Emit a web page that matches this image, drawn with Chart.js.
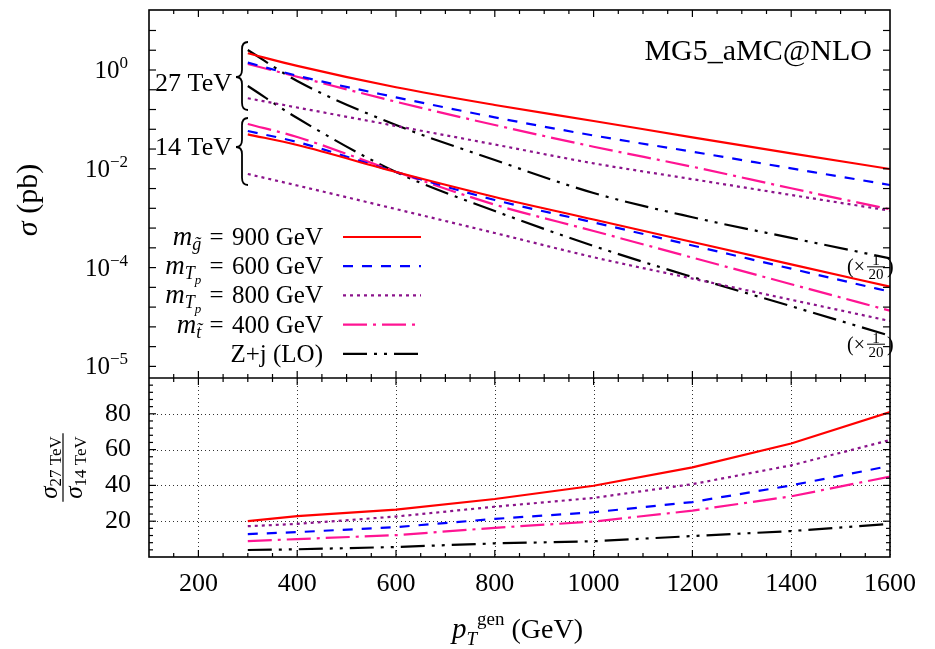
<!DOCTYPE html>
<html>
<head>
<meta charset="utf-8">
<title>sigma vs pT gen</title>
<script src="https://cdn.jsdelivr.net/npm/chart.js@4.4.1/dist/chart.umd.min.js"></script>
<style>
  html, body { margin: 0; padding: 0; background: #fff; }
  #wrap { width: 935px; height: 649px; }
</style>
</head>
<body>
<div id="wrap"><canvas id="xsecChart" width="935" height="649"></canvas></div>
<script>
// generator-level pT (GeV)
const ptGen = [300, 400, 600, 800, 1000, 1200, 1400, 1600];
const xTicks = [200, 400, 600, 800, 1000, 1200, 1400, 1600];

// sigma (pb) at 27 TeV
const gluino27 = [2.18, 1.21, 0.447, 0.196, 0.0929, 0.0434, 0.0206, 0.0099];
const tp600_27 = [1.41, 0.767, 0.280, 0.110, 0.0472, 0.0222, 0.0102, 0.0047];
const tp800_27 = [0.268, 0.174, 0.0735, 0.0310, 0.0129, 0.00616, 0.00295, 0.00142];
const stop27   = [1.32, 0.732, 0.228, 0.0770, 0.0280, 0.0110, 0.00403, 0.00151];
const zj27     = [50.8, 12.0, 1.54, 0.301, 0.0647, 0.0209, 0.00798, 0.00308];

// sigma (pb) at 14 TeV
const gluino14 = [0.0499, 0.0303, 0.00861, 0.00269, 0.000941, 0.000330, 0.000116, 0.000041];
const tp600_14 = [0.0582, 0.0349, 0.00861, 0.00234, 0.000822, 0.000280, 0.0000950, 0.0000325];
const tp800_14 = [0.00785, 0.00459, 0.00153, 0.000501, 0.000162, 0.0000599, 0.0000223, 0.0000083];
const stop14   = [0.0807, 0.0440, 0.00874, 0.00188, 0.000551, 0.000159, 0.0000461, 0.0000134];
const zj14     = [9.48, 2.13, 0.172, 0.0280, 0.00548, 0.00129, 0.000330, 0.0000836];

// Z+j is drawn scaled down
const zjScale = 1 / 20;

// sigma(27 TeV) / sigma(14 TeV)
const ratioGluino = [20.0, 22.8, 26.5, 32.4, 39.8, 50.1, 63.4, 81.0];
const ratioTp600  = [12.8, 13.9, 16.7, 21.3, 25.0, 30.7, 40.0, 50.9];
const ratioTp800  = [17.2, 18.5, 22.6, 28.1, 33.0, 40.7, 51.2, 65.3];
const ratioStop   = [8.9, 10.0, 12.2, 16.3, 19.8, 25.9, 33.9, 44.9];
const ratioZj     = [3.9, 4.3, 5.6, 7.6, 8.8, 11.7, 14.5, 18.5];

// log-axis tick labels
const logTickValues = [1, 1e-2, 1e-4, 1e-6];
const logTickExps = ['0', '\u22122', '\u22124', '\u22125'];

const ratioTicks = [20, 40, 60, 80];

const FAMILY = '"Liberation Serif", "DejaVu Serif", serif';
const fontOf = (size, italic) => `${italic ? 'italic ' : ''}${size}px ${FAMILY}`;

const EQ = '\u2004=\u2004';
const series = [
    { v27: gluino27, v14: gluino14, ratio: ratioGluino, color: '#ff0000', dash: [], width: 2.2,
      label: [['m', 27, true], ['g\u0303', 18, true, 5], [EQ + '900 GeV', 25]] },
    { v27: tp600_27, v14: tp600_14, ratio: ratioTp600, color: '#0000ff', dash: [10, 9], width: 2.2,
      label: [['m', 27, true], ['T', 18, true, 5], ['p', 13, true, 10], [EQ + '600 GeV', 25]] },
    { v27: tp800_27, v14: tp800_14, ratio: ratioTp800, color: '#8b138b', dash: [3, 4], width: 2.2,
      label: [['m', 27, true], ['T', 18, true, 5], ['p', 13, true, 10], [EQ + '800 GeV', 25]] },
    { v27: stop27, v14: stop14, ratio: ratioStop, color: '#ff1493', dash: [24, 6, 3, 6], width: 2.2,
      label: [['m', 27, true], ['t\u0303', 18, true, 5], [EQ + '400 GeV', 25]] },
    { v27: zj27.map(v => v * zjScale), v14: zj14.map(v => v * zjScale), ratio: ratioZj,
      color: '#000000', dash: [24, 7, 3, 7, 3, 7], width: 2.2,
      label: [['Z+j (LO)', 25]] }
];

const toXY = vals => vals.map((y, i) => ({ x: ptGen[i], y }));

const datasets = [];
series.forEach((s, i) => {
    const style = {
        borderColor: s.color, borderWidth: s.width, borderDash: s.dash,
        pointRadius: 0, fill: false, series: i
    };
    datasets.push({ ...style, data: toXY(s.v27), yAxisID: 'yTop', cubicInterpolationMode: 'monotone' });
    datasets.push({ ...style, data: toXY(s.v14), yAxisID: 'yTop', cubicInterpolationMode: 'monotone' });
    datasets.push({ ...style, data: toXY(s.ratio), yAxisID: 'yBot', tension: 0 });
});

// text made of pieces: [text, size, italic, dy]
function drawRuns(ctx, runs, x, y, align) {
    const widths = runs.map(r => { ctx.font = fontOf(r[1], r[2]); return ctx.measureText(r[0]).width; });
    const total = widths.reduce((a, b) => a + b, 0);
    let cx = align === 'right' ? x - total : align === 'center' ? x - total / 2 : x;
    runs.forEach((r, i) => {
        ctx.font = fontOf(r[1], r[2]);
        ctx.fillText(r[0], cx, y + (r[3] || 0));
        cx += widths[i];
    });
    return total;
}

function drawBrace(ctx, xTip, yTop, yMid, yBot, w) {
    const xs = xTip + w * 0.5;
    const xe = xTip + w;
    ctx.beginPath();
    ctx.moveTo(xe, yTop);
    ctx.quadraticCurveTo(xs, yTop, xs, yTop + w * 0.6);
    ctx.lineTo(xs, yMid - w * 0.6);
    ctx.quadraticCurveTo(xs, yMid, xTip, yMid);
    ctx.quadraticCurveTo(xs, yMid, xs, yMid + w * 0.6);
    ctx.lineTo(xs, yBot - w * 0.6);
    ctx.quadraticCurveTo(xs, yBot, xe, yBot);
    ctx.stroke();
}

function drawScaleNote(ctx, xRight, y) {
    // "(x 1/20)" with a stacked fraction
    ctx.fillStyle = '#000';
    ctx.textAlign = 'left';
    ctx.font = fontOf(20);
    const open = '(\u00d7';
    const wOpen = ctx.measureText(open).width;
    const x0 = xRight - wOpen - 22 - 7;
    ctx.fillText(open, x0, y + 7);
    const fx = x0 + wOpen + 11;
    ctx.font = fontOf(15);
    ctx.textAlign = 'center';
    ctx.fillText('1', fx, y - 1);
    ctx.fillText('20', fx, y + 13);
    ctx.beginPath();
    ctx.lineWidth = 1;
    ctx.moveTo(fx - 9, y + 0.5);
    ctx.lineTo(fx + 9, y + 0.5);
    ctx.stroke();
    ctx.textAlign = 'left';
    ctx.font = fontOf(20);
    ctx.fillText(')', fx + 11, y + 7);
}

const panelPlugin = {
    id: 'panelDecor',
    beforeDatasetsDraw(chart) {
        const { ctx, chartArea: ca } = chart;
        const xs = chart.scales.x, yb = chart.scales.yBot;
        ctx.save();
        ctx.strokeStyle = '#333';
        ctx.lineWidth = 1;
        ctx.setLineDash([1, 3]);
        xTicks.forEach(v => {
            const px = Math.round(xs.getPixelForValue(v)) + 0.5;
            ctx.beginPath(); ctx.moveTo(px, yb.top); ctx.lineTo(px, yb.bottom); ctx.stroke();
        });
        ratioTicks.forEach(v => {
            const py = Math.round(yb.getPixelForValue(v)) + 0.5;
            ctx.beginPath(); ctx.moveTo(ca.left, py); ctx.lineTo(ca.right, py); ctx.stroke();
        });
        ctx.restore();
    },
    afterDatasetsDraw(chart) {
        const { ctx, chartArea: ca } = chart;
        const xs = chart.scales.x, yt = chart.scales.yTop, yb = chart.scales.yBot;
        ctx.save();
        ctx.strokeStyle = '#000';
        ctx.lineWidth = 1.2;
        const seg = (x1, y1, x2, y2) => { ctx.beginPath(); ctx.moveTo(x1, y1); ctx.lineTo(x2, y2); ctx.stroke(); };

        // x ticks on every horizontal edge, pointing inwards
        for (let v = 150; v < 1600; v += 50) {
            const px = xs.getPixelForValue(v);
            const len = v % 200 === 0 ? 7 : 4;
            seg(px, yt.top, px, yt.top + len);
            seg(px, yt.bottom, px, yt.bottom - len);
            seg(px, yb.top, px, yb.top + len);
            seg(px, yb.bottom, px, yb.bottom - len);
        }
        // log panel ticks every 0.4 decade
        for (let e = 0.8; e >= -6.01; e -= 0.4) {
            const py = yt.getPixelForValue(Math.pow(10, e));
            seg(ca.left, py, ca.left + 7, py);
            seg(ca.right, py, ca.right - 7, py);
        }
        // ratio panel ticks
        for (let v = 4; v < 100; v += 4) {
            const py = yb.getPixelForValue(v);
            const len = v % 20 === 0 ? 7 : 4;
            seg(ca.left, py, ca.left + len, py);
            seg(ca.right, py, ca.right - len, py);
        }
        // frames
        ctx.lineWidth = 1.6;
        ctx.strokeRect(ca.left, ca.top, ca.right - ca.left, ca.bottom - ca.top);
        seg(ca.left, yb.top, ca.right, yb.top);
        ctx.restore();
    },
    afterDraw(chart) {
        const { ctx, chartArea: ca } = chart;
        const yt = chart.scales.yTop, yb = chart.scales.yBot;
        ctx.save();
        ctx.fillStyle = '#000';
        ctx.strokeStyle = '#000';
        ctx.textBaseline = 'alphabetic';

        // log axis labels 10^n
        logTickValues.forEach((v, i) => {
            const py = yt.getPixelForValue(v);
            drawRuns(ctx, [['10', 25], [logTickExps[i], 17, false, -10]], ca.left - 21, py + 8, 'right');
        });

        // axis titles
        ctx.save();
        ctx.translate(37, (yt.top + yt.bottom) / 2 + 6);
        ctx.rotate(-Math.PI / 2);
        drawRuns(ctx, [['\u03c3', 30, true], [' (pb)', 30]], 0, 0, 'center');
        ctx.restore();

        ctx.save();
        ctx.translate(63, (yb.top + yb.bottom) / 2);
        ctx.rotate(-Math.PI / 2);
        const wNum = drawRuns(ctx, [['\u03c3', 25, true], ['27 TeV', 17, false, 4]], 0, -6, 'center');
        drawRuns(ctx, [['\u03c3', 25, true], ['14 TeV', 17, false, 4]], 0, 19, 'center');
        ctx.lineWidth = 1.2;
        ctx.beginPath();
        ctx.moveTo(-wNum / 2 - 3, 0);
        ctx.lineTo(wNum / 2 + 3, 0);
        ctx.stroke();
        ctx.restore();

        drawRuns(ctx, [['p', 29, true], ['T', 19, true, 7], ['gen', 19, false, -13], [' (GeV)', 28]],
            (ca.left + ca.right) / 2 - 2, 638, 'center');

        // generator tag
        ctx.font = fontOf(30);
        ctx.textAlign = 'right';
        ctx.fillText('MG5_aMC@NLO', ca.right - 18, 60);
        ctx.textAlign = 'left';

        // energy braces
        ctx.font = fontOf(26);
        ctx.textAlign = 'right';
        ctx.fillText('27 TeV', 232, 91);
        ctx.fillText('14 TeV', 232, 155);
        ctx.textAlign = 'left';
        ctx.lineWidth = 1.8;
        drawBrace(ctx, 236, 42, 77, 110, 12);
        drawBrace(ctx, 236, 118, 147, 185, 12);

        // legend
        const legendX = 323, lineX0 = 343, lineX1 = 421;
        series.forEach((s, i) => {
            const ly = 237 + i * 29.2;
            ctx.fillStyle = '#000';
            drawRuns(ctx, s.label, legendX, ly + 8, 'right');
            ctx.save();
            ctx.strokeStyle = s.color;
            ctx.lineWidth = s.width;
            ctx.setLineDash(s.dash);
            ctx.beginPath();
            ctx.moveTo(lineX0, ly);
            ctx.lineTo(lineX1, ly);
            ctx.stroke();
            ctx.restore();
        });

        // scale notes next to the Z+j curves
        const last = ptGen.length - 1;
        drawScaleNote(ctx, ca.right + 4, yt.getPixelForValue(zj27[last] * zjScale) + 8);
        drawScaleNote(ctx, ca.right + 4, yt.getPixelForValue(zj14[last] * zjScale) + 8);
        ctx.restore();
    }
};

const fitY = s => { s.width = 149; s.paddingTop = 0; s.paddingBottom = 0; };

const xsecChart = new Chart(document.getElementById('xsecChart'), {
    type: 'line',
    data: { datasets },
    options: {
        responsive: false,
        animation: false,
        devicePixelRatio: 1,
        layout: { padding: { top: 10, right: 45, left: 0, bottom: 0 } },
        plugins: { legend: { display: false }, tooltip: { enabled: false } },
        scales: {
            x: {
                type: 'linear', min: 100, max: 1600, position: 'bottom',
                afterBuildTicks: s => { s.ticks = xTicks.map(v => ({ value: v })); },
                afterFit: s => { s.height = 92; s.paddingLeft = 0; s.paddingRight = 0; },
                grid: { display: false, drawTicks: false },
                border: { display: false },
                ticks: { color: '#000', font: { family: FAMILY, size: 26 }, padding: 12,
                         maxRotation: 0, autoSkip: false, callback: v => String(v) }
            },
            yBot: {
                type: 'linear', min: 0, max: 100, position: 'left',
                stack: 'panels', stackWeight: 179, weight: 1,
                afterBuildTicks: s => { s.ticks = ratioTicks.map(v => ({ value: v })); },
                afterFit: fitY,
                grid: { display: false, drawTicks: false },
                border: { display: false },
                ticks: { color: '#000', font: { family: FAMILY, size: 26 }, padding: 18 }
            },
            yTop: {
                type: 'logarithmic', min: Math.pow(10, -6.235), max: Math.pow(10, 1.2146), position: 'left',
                stack: 'panels', stackWeight: 368, weight: 2,
                afterFit: fitY,
                grid: { display: false, drawTicks: false },
                border: { display: false },
                ticks: { display: false }
            }
        }
    },
    plugins: [panelPlugin]
});
</script>
</body>
</html>
